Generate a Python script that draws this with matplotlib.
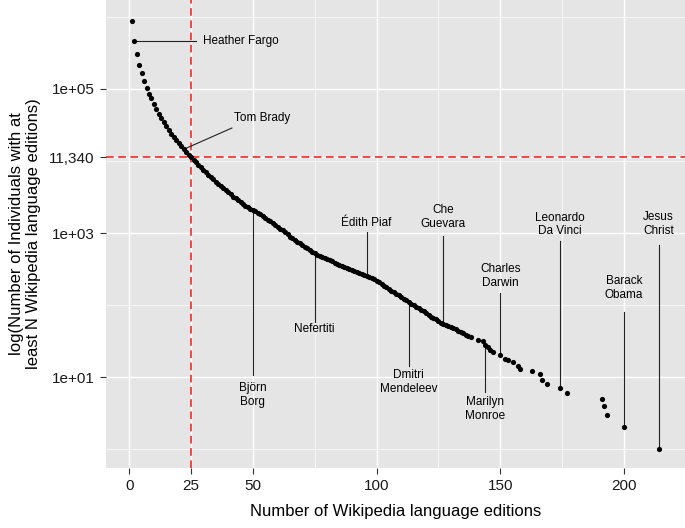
import matplotlib.pyplot as plt
import numpy as np

plt.rcParams.update({
    'font.family': ['Liberation Sans', 'DejaVu Sans'],
    'font.size': 11,
})

# editions N = 1..137, log10 of individuals with at least N editions
n_main = np.arange(1, 138)
log_main = [
    5.944, 5.66, 5.486, 5.333, 5.218, 5.115, 5.02, 4.935, 4.87, 4.79,
    4.72, 4.655, 4.60, 4.54, 4.485, 4.43, 4.38, 4.335, 4.29, 4.25,
    4.21, 4.17, 4.13, 4.09, 4.0546, 4.02, 3.985, 3.95, 3.915, 3.88,
    3.845, 3.81, 3.775, 3.745, 3.715, 3.685, 3.655, 3.625, 3.595, 3.565,
    3.535, 3.505, 3.48, 3.455, 3.43, 3.405, 3.38, 3.36, 3.34, 3.32,
    3.30, 3.28, 3.26, 3.235, 3.21, 3.185, 3.16, 3.135, 3.11, 3.085,
    3.06, 3.035, 3.01, 2.985, 2.95, 2.93, 2.905, 2.88, 2.86, 2.835,
    2.81, 2.79, 2.765, 2.74, 2.72, 2.70, 2.685, 2.67, 2.655, 2.64,
    2.62, 2.605, 2.59, 2.575, 2.56, 2.545, 2.53, 2.515, 2.50, 2.485,
    2.47, 2.455, 2.44, 2.43, 2.415, 2.40, 2.385, 2.37, 2.355, 2.335,
    2.315, 2.295, 2.27, 2.25, 2.225, 2.20, 2.18, 2.155, 2.135, 2.11,
    2.09, 2.065, 2.04, 2.02, 2.00, 1.975, 1.955, 1.935, 1.91, 1.885,
    1.86, 1.84, 1.82, 1.80, 1.78, 1.755, 1.74, 1.725, 1.71, 1.695,
    1.68, 1.66, 1.645, 1.625, 1.605, 1.585, 1.565,
]

# sparse tail: editions and counts
n_tail = [138, 141, 143, 144, 145, 146, 147, 150, 152, 153, 155, 157, 158,
          163, 166, 167, 169, 174, 177, 191, 192, 193, 200, 214]
count_tail = [36, 33, 32, 28, 26, 24, 22, 20, 18, 17, 16, 14, 13,
              12, 11, 9, 8, 7, 6, 5, 4, 3, 2, 1]

x_all = np.concatenate([n_main, n_tail])
y_all = np.concatenate([10 ** np.array(log_main), count_tail])

y_ticks = [10, 1000, 11340, 100000]
y_ticklabels = ['1e+01', '1e+03', '11,340', '1e+05']
x_ticks = [0, 25, 50, 100, 150, 200]

# (label, x, text log10 y, line from log10 y, line to log10 y)
labels = [
    ('Björn\nBorg', 50, 0.75, 1.028, 3.32),
    ('Nefertiti', 75, 1.667, 1.764, 2.72),
    ('Édith Piaf', 96, 3.143, 3.014, 2.40),
    ('Dmitri\nMendeleev', 113, 0.931, 1.153, 2.04),
    ('Che\nGuevara', 127, 3.222, 2.958, 1.74),
    ('Charles\nDarwin', 150, 2.403, 2.167, 1.301),
    ('Marilyn\nMonroe', 144, 0.556, 0.792, 1.449),
    ('Leonardo\nDa Vinci', 174, 3.118, 2.889, 0.845),
    ('Barack\nObama', 200, 2.236, 1.903, 0.301),
    ('Jesus\nChrist', 214, 3.125, 2.833, 0.0),
]

fig = plt.figure(figsize=(6.85, 5.28), dpi=100)
ax = fig.add_axes([0.1547, 0.1136, 0.8453, 0.8864])
ax.set_facecolor('#E5E5E5')
for s in ax.spines.values():
    s.set_visible(False)

ax.set_yscale('log')
ax.set_xlim(-9.4, 224.7)
ax.set_ylim(10 ** -0.264, 10 ** 6.236)

# grid
for v in [75, 125, 175]:
    ax.axvline(v, color='white', lw=0.5, zorder=0)
for v in x_ticks:
    ax.axvline(v, color='white', lw=1.0, zorder=0)
for v in [1, 100, 1e4, 1e6]:
    ax.axhline(v, color='white', lw=0.5, zorder=0)
for v in y_ticks:
    ax.axhline(v, color='white', lw=1.0, zorder=0)

ax.set_xticks(x_ticks)
ax.set_xticklabels([str(t) for t in x_ticks])
ax.set_yticks(y_ticks)
ax.set_yticklabels(y_ticklabels)
ax.minorticks_off()
ax.tick_params(axis='both', length=4, width=0.8, color='#333333',
               labelsize=11, labelcolor='#1a1a1a', pad=4)

ax.axvline(25, color='#F01818', lw=1.1, ls=(0, (5, 3)), zorder=1)
ax.axhline(11340, color='#F01818', lw=1.1, ls=(0, (5, 3)), zorder=1)

ax.scatter(x_all, y_all, s=14, color='black', lw=0, zorder=3)

lc = '#222222'
# Heather Fargo
ax.plot([2, 27], [10 ** 5.667, 10 ** 5.667], color=lc, lw=0.8, zorder=2)
ax.text(29.8, 10 ** 5.667, 'Heather Fargo', fontsize=8.5, ha='left', va='center')
# Tom Brady
ax.plot([23.2, 41.5], [10 ** 4.18, 10 ** 4.458], color=lc, lw=0.8, zorder=2)
ax.text(53.6, 10 ** 4.597, 'Tom Brady', fontsize=8.5, ha='center', va='center')

for name, x, ty, y0, y1 in labels:
    ax.plot([x, x], [10 ** y0, 10 ** y1], color=lc, lw=0.8, zorder=2)
    ax.text(x, 10 ** ty, name, fontsize=8.5, ha='center', va='center',
            linespacing=1.15)

ax.set_xlabel('Number of Wikipedia language editions', fontsize=12, labelpad=8)
ax.set_ylabel('log(Number of Individuals with at\nleast N Wikipedia language editions)',
              fontsize=12, labelpad=6)

fig.savefig('out.png', dpi=100)
